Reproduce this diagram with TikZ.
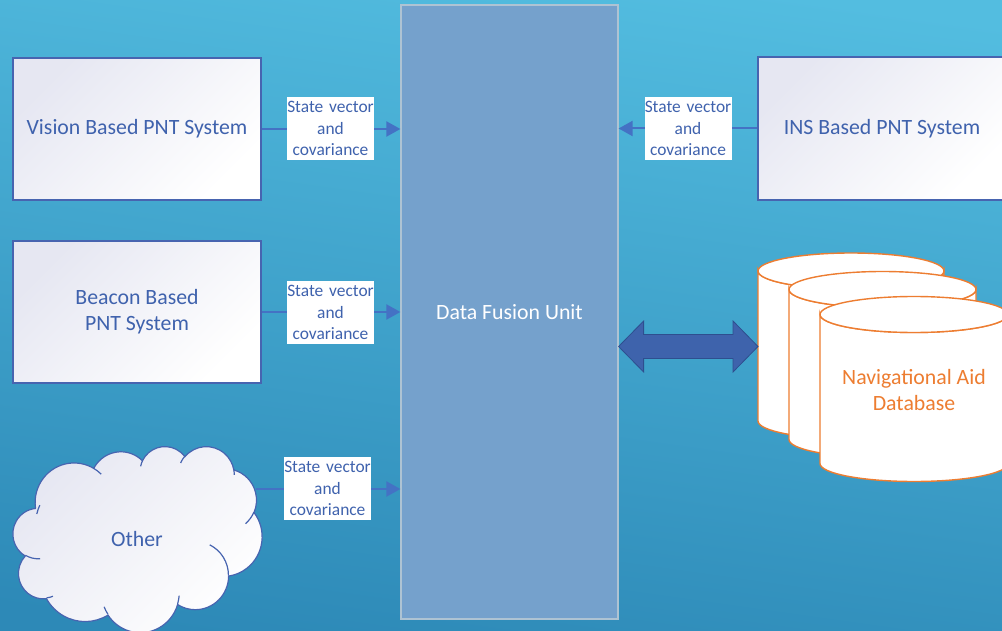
\documentclass[tikz,border=0pt]{standalone}
\usepackage{fontspec}
\setmainfont{Carlito}
\usetikzlibrary{arrows.meta,calc}

\definecolor{bgtop}{HTML}{53BDE0}
\definecolor{bgbot}{HTML}{2D89B7}
\definecolor{boxtxt}{HTML}{3F62AD}
\definecolor{boxline}{HTML}{4764B0}
\definecolor{boxtint}{HTML}{E6E7F2}
\definecolor{connblue}{HTML}{4472C4}
\definecolor{dfufill}{HTML}{75A1CC}
\definecolor{dfuline}{HTML}{AEC3D3}
\definecolor{dbline}{HTML}{ED7D31}
\definecolor{dblarrow}{HTML}{3E63AC}
\definecolor{dblarrowline}{HTML}{2E4F8F}

\tikzset{
  sysbox/.style={draw=boxline, line width=1.2pt, top color=boxtint, bottom color=white,
    shading angle=45, minimum width=248pt, minimum height=142pt, inner sep=0pt,
    text=boxtxt, align=center, font=\fontsize{21.8}{26}\selectfont},
  fusion/.style={draw=dfuline, line width=1.2pt, fill=dfufill, minimum width=217pt,
    minimum height=614pt, inner sep=0pt, text=white, font=\fontsize{21.8}{26}\selectfont},
  vlabel/.style={fill=white, inner sep=0pt, minimum width=87pt, minimum height=63pt,
    text width=87pt, align=center, text=boxtxt, font=\fontsize{17.4}{21.2}\selectfont},
  conn/.style={draw=connblue, line width=2pt, -{Triangle[length=14pt,width=15pt]}},
  cyl/.style={draw=dbline, line width=1.4pt, fill=white},
  cloudline/.style={draw=boxline, line width=1.2pt},
}

\newcommand{\drawcyl}[4]{% left x, right x, top centre y, height
  \path[cyl] (#1,#3) -- (#1,#3+#4)
    arc[start angle=180, end angle=0, x radius={(#2-#1)/2}, y radius=18]
    -- (#2,#3)
    arc[start angle=0, end angle=180, x radius={(#2-#1)/2}, y radius=18] -- cycle;
  \path[cyl] ({(#1+#2)/2},#3) ellipse[x radius={(#2-#1)/2}, y radius=18];
}

% outline of the cloud: eleven puffs, radii in pt, angles counter-clockwise
\def\cloudpath{(35.480,507.871)
  arc[x radius=38.924pt, y radius=39.568pt, start angle=187.747, end angle=59.637]
  arc[x radius=30.739pt, y radius=31.288pt, start angle=152.022, end angle=45.457]
  arc[x radius=25.159pt, y radius=25.597pt, start angle=153.481, end angle=37.325]
  arc[x radius=27.995pt, y radius=28.395pt, start angle=139.723, end angle=10.211]
  arc[x radius=30.739pt, y radius=31.314pt, start angle=74.771, end angle=-23.210]
  arc[x radius=39.050pt, y radius=39.697pt, start angle=37.594, end angle=-81.859]
  arc[x radius=33.344pt, y radius=33.872pt, start angle=-0.460, end angle=-121.974]
  arc[x radius=38.918pt, y radius=39.676pt, start angle=-16.842, end angle=-146.247]
  arc[x radius=44.497pt, y radius=45.393pt, start angle=-59.024, end angle=-150.170]
  arc[x radius=25.131pt, y radius=25.480pt, start angle=276.697, end angle=136.916]
  arc[x radius=25.044pt, y radius=25.597pt, start angle=239.624, end angle=95.887]
  -- cycle}

\begin{document}
\begin{tikzpicture}[x=1pt, y=-1pt]
  \useasboundingbox (0,0) rectangle (1002,631);
  \clip (0,0) rectangle (1002,631);
  \shade[top color=bgtop, bottom color=bgbot, shading angle=-8] (-20,-20) rectangle (1022,651);

  % central fusion block
  \node[fusion] (dfu) at (509.5,312) {Data Fusion Unit};

  % sensor systems
  \node[sysbox] (vision) at (137,129) {Vision Based PNT System};
  \node[sysbox] (beacon) at (137,312) {Beacon Based\\PNT System};
  \node[sysbox, minimum height=143pt] (ins) at (882,128.5) {INS Based PNT System};

  % cloud for the remaining sources
  \shade[top color=boxtint, bottom color=white, shading angle=45] \cloudpath;
  \draw[cloudline] \cloudpath;
  \draw[cloudline]
    (40.050,558.706) arc[x radius=25.044pt, y radius=25.597pt, start angle=-85.546, end angle=-120.376]
    (52.932,596.260) arc[x radius=25.131pt, y radius=25.480pt, start angle=-68.264, end angle=-83.303]
    (107.977,614.305) arc[x radius=38.918pt, y radius=39.676pt, start angle=-146.247, end angle=-158.474]
    (179.155,595.623) arc[x radius=38.918pt, y radius=39.676pt, start angle=-4.738, end angle=-16.842]
    (209.716,544.830) arc[x radius=33.344pt, y radius=33.872pt, start angle=64.008, end angle=-0.460]
    (253.919,512.107) arc[x radius=30.739pt, y radius=31.314pt, start angle=-23.210, end angle=-49.652]
    (233.895,469.362) arc[x radius=27.995pt, y radius=28.395pt, start angle=10.211, end angle=-0.821]
    (180.603,463.016) arc[x radius=27.995pt, y radius=28.395pt, start angle=156.284, end angle=139.723]
    (140.618,466.322) arc[x radius=25.159pt, y radius=25.597pt, start angle=167.726, end angle=153.544]
    (93.694,468.354) arc[x radius=38.924pt, y radius=39.568pt, start angle=59.637, end angle=45.757]
    (36.788,513.980) arc[x radius=38.924pt, y radius=39.568pt, start angle=167.390, end angle=153.811];
  \node[text=boxtxt, font=\fontsize{21.8}{26}\selectfont] (other) at (137,539) {Other};
  \coordinate (otherout) at (256,489);

  % navigational aid database stack
  \drawcyl{758}{944}{271}{150}
  \drawcyl{789}{976}{289.5}{150}
  \drawcyl{820}{1008}{314.5}{149}
  \node[text=dbline, align=center, font=\fontsize{21.8}{26}\selectfont] (navdb) at (914,390)
    {Navigational Aid\\Database};

  % data connectors
  \draw[conn] (vision.east) -- (dfu.west |- vision.east);
  \draw[conn] (beacon.east) -- (dfu.west |- beacon.east);
  \draw[conn] (otherout) -- (dfu.west |- otherout);
  \draw[conn] (ins.west) -- (dfu.east |- ins.west);

  % labels on the connectors
  \node[vlabel] (lvision) at (330.5,128.5) {State vector\\and\\covariance};
  \node[vlabel] (lbeacon) at (330.5,312.5) {State vector\\and\\covariance};
  \node[vlabel] (lother) at (327.5,488.5) {State vector\\and\\covariance};
  \node[vlabel] (lins) at (688,128.5) {State vector\\and\\covariance};

  % two-way link between fusion unit and database
  \coordinate (dbl) at (dfu.east |- 0,346.5);
  \coordinate (dbr) at (758,346.5);
  \path[fill=dblarrow, draw=dblarrowline, line width=0.8pt]
    (dbl) -- ($(dbl)+(25,-25.5)$) -- ($(dbl)+(25,-12)$) -- ($(dbr)+(-25,-12)$)
    -- ($(dbr)+(-25,-25.5)$) -- (dbr) -- ($(dbr)+(-25,25.5)$) -- ($(dbr)+(-25,12)$)
    -- ($(dbl)+(25,12)$) -- ($(dbl)+(25,25.5)$) -- cycle;
\end{tikzpicture}
\end{document}
